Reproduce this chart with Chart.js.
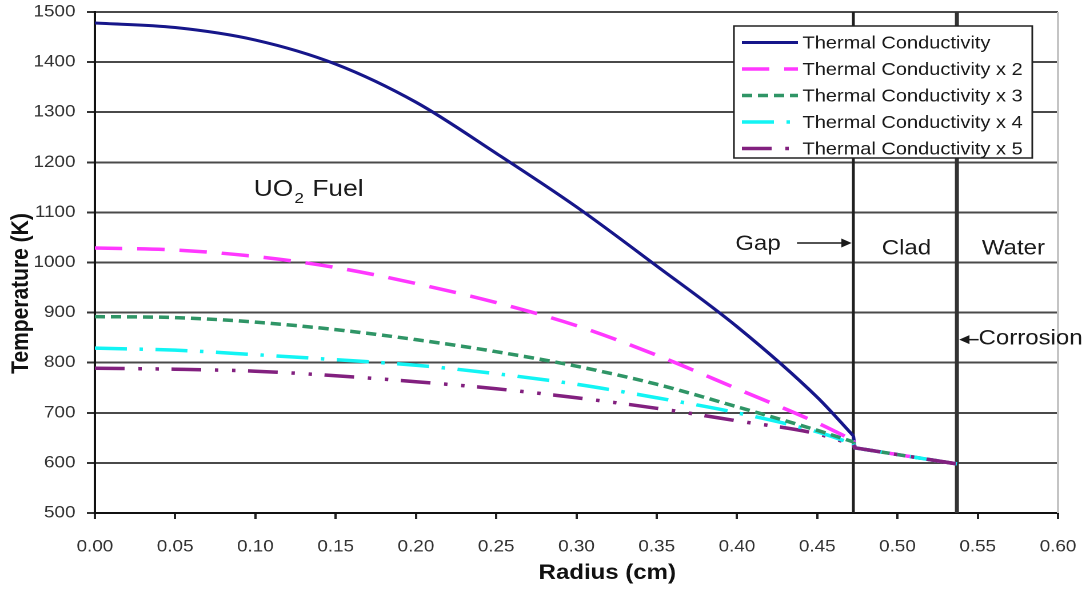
<!DOCTYPE html>
<html>
<head>
<meta charset="utf-8">
<title>Temperature profile</title>
<script src="https://cdn.jsdelivr.net/npm/chart.js@4.4.1/dist/chart.umd.min.js"></script>
<style>
  html, body { margin: 0; padding: 0; background: #fff; overflow: hidden; }
  /* the original picture is stretched sideways, so draw narrow and widen */
  #wrap { width: 950px; height: 589px; transform: scaleX(1.14316); transform-origin: 0 0; }
</style>
</head>
<body>
<div id="wrap"><canvas id="chart1" width="950" height="589"></canvas></div>
<script>
// Data
// fuel region (radius in cm)
const fuelRadius = [0, 0.05, 0.10, 0.15, 0.20, 0.25, 0.30, 0.35, 0.40, 0.45, 0.4725];
const tempK1 = [1478, 1469, 1444, 1396, 1320, 1218, 1111, 993, 872, 731, 654];
const tempK2 = [1029, 1025, 1012, 990, 958, 920, 874, 815, 748, 680, 645];
const tempK3 = [892, 890, 881, 866, 846, 822, 793, 757, 712, 665, 642];
const tempK4 = [829, 825, 816, 806, 795, 778, 757, 730, 700, 662, 638];
const tempK5 = [789, 787, 783, 774, 762, 748, 730, 709, 684, 658, 636];
// gap inner face and clad (same for every case)
const cladRadius = [0.4735, 0.537];
const cladTempK = [630, 598];

const seriesNames = [
    'Thermal Conductivity',
    'Thermal Conductivity x 2',
    'Thermal Conductivity x 3',
    'Thermal Conductivity x 4',
    'Thermal Conductivity x 5'
];
const seriesValues = [tempK1, tempK2, tempK3, tempK4, tempK5];

// axis ranges
const xMin = 0, xMax = 0.6, xStep = 0.05;
const yMin = 500, yMax = 1500, yStep = 100;

// region boundaries (cm)
const gapRadius = 0.4725;
const cladOuterRadius = 0.537;

const FONT = "'Liberation Sans', Arial, Helvetica, sans-serif";

const lineStyles = [
    {color: '#16168a', width: 3, dash: []},
    {color: '#ff38ff', width: 3.5, dash: [24, 13]},
    {color: '#2f9566', width: 3.5, dash: [9, 5]},
    {color: '#12f4f4', width: 3.5, dash: [28, 11, 3, 11]},
    {color: '#82207f', width: 3.5, dash: [26, 12, 3, 12, 3, 11]}
];

function lineSet(label, points, i, smooth, order){
    return {
        label: label,
        data: points,
        borderColor: lineStyles[i].color,
        borderWidth: lineStyles[i].width,
        borderDash: lineStyles[i].dash,
        borderCapStyle: 'butt',
        pointRadius: 0,
        fill: false,
        tension: 0,
        cubicInterpolationMode: smooth ? 'monotone' : 'default',
        order: order
    };
}

var datasets = [];
seriesValues.forEach(function(vals, i){
    // fuel part, smooth curve
    let fuel = fuelRadius.map(function(r, j){ return {x: r, y: vals[j]}; });
    datasets.push(lineSet(seriesNames[i], fuel, i, true, i));
    // drop across the gap, then straight through the clad
    let clad = [{x: gapRadius, y: vals[vals.length - 1]}].concat(
        cladRadius.map(function(r, j){ return {x: r, y: cladTempK[j]}; }));
    datasets.push(lineSet(seriesNames[i] + ' (clad)', clad, i, false, 10 - i));
});

function arrowHead(ctx, x, y, dir){
    ctx.beginPath();
    ctx.moveTo(x, y);
    ctx.lineTo(x - dir * 9, y - 4.5);
    ctx.lineTo(x - dir * 9, y + 4.5);
    ctx.closePath();
    ctx.fill();
}

// Region lines, labels, legend box, axis titles
const extras = {
    id: 'extras',
    beforeDatasetsDraw(chart){
        const {ctx, chartArea: a, scales: {x}} = chart;
        ctx.save();
        ctx.strokeStyle = '#c4c4c4';
        ctx.lineWidth = 2;
        ctx.beginPath(); ctx.moveTo(a.right, a.top); ctx.lineTo(a.right, a.bottom); ctx.stroke();

        ctx.strokeStyle = '#1e1e1e';
        ctx.lineWidth = 2.5;
        let gx = x.getPixelForValue(gapRadius);
        ctx.beginPath(); ctx.moveTo(gx, a.top); ctx.lineTo(gx, a.bottom); ctx.stroke();

        ctx.strokeStyle = '#333';
        ctx.lineWidth = 3.5;
        let cx = x.getPixelForValue(cladOuterRadius);
        ctx.beginPath(); ctx.moveTo(cx, a.top); ctx.lineTo(cx, a.bottom); ctx.stroke();
        ctx.restore();
    },
    afterDraw(chart){
        const {ctx, chartArea: a, scales: {x, y}} = chart;
        ctx.save();
        ctx.fillStyle = '#1a1a1a';
        ctx.strokeStyle = '#1a1a1a';

        // UO2 Fuel
        ctx.textBaseline = 'middle';
        ctx.textAlign = 'left';
        let ux = x.getPixelForValue(0.099), uy = y.getPixelForValue(1145);
        ctx.font = '23px ' + FONT;
        ctx.fillText('UO', ux, uy);
        let w = ctx.measureText('UO').width;
        ctx.font = '15px ' + FONT;
        ctx.fillText('2', ux + w + 1, uy + 9);
        let w2 = ctx.measureText('2').width;
        ctx.font = '23px ' + FONT;
        ctx.fillText(' Fuel', ux + w + w2 + 2, uy);

        // region labels
        ctx.font = '21px ' + FONT;
        ctx.textAlign = 'center';
        ctx.fillText('Clad', x.getPixelForValue(0.5056), y.getPixelForValue(1028));
        ctx.fillText('Water', x.getPixelForValue(0.5722), y.getPixelForValue(1028));
        ctx.fillText('Gap', x.getPixelForValue(0.4131), y.getPixelForValue(1037));
        ctx.textAlign = 'left';
        ctx.fillText('Corrosion', x.getPixelForValue(0.5505), y.getPixelForValue(848));

        // arrows
        ctx.lineWidth = 1.5;
        let ay = y.getPixelForValue(1039);
        let ax0 = x.getPixelForValue(0.4374), ax1 = x.getPixelForValue(gapRadius) - 1.5;
        ctx.beginPath(); ctx.moveTo(ax0, ay); ctx.lineTo(ax1 - 6, ay); ctx.stroke();
        arrowHead(ctx, ax1, ay, 1);
        let by = y.getPixelForValue(846);
        let bx0 = x.getPixelForValue(0.5505), bx1 = x.getPixelForValue(cladOuterRadius) + 2;
        ctx.beginPath(); ctx.moveTo(bx0, by); ctx.lineTo(bx1 + 6, by); ctx.stroke();
        arrowHead(ctx, bx1, by, -1);

        // legend box
        let lx = a.right - 283.5, ly = a.top + 14, lw = 261, lh = 132;
        ctx.fillStyle = '#fff';
        ctx.fillRect(lx, ly, lw, lh);
        ctx.strokeStyle = '#222';
        ctx.lineWidth = 1.5;
        ctx.strokeRect(lx, ly, lw, lh);
        ctx.font = '17.5px ' + FONT;
        ctx.textAlign = 'left';
        ctx.textBaseline = 'middle';
        seriesNames.forEach(function(name, i){
            let ry = ly + 16.5 + i * 26.5;
            let st = lineStyles[i];
            ctx.strokeStyle = st.color;
            ctx.lineWidth = st.width;
            ctx.setLineDash(st.dash);
            ctx.beginPath(); ctx.moveTo(lx + 7, ry); ctx.lineTo(lx + 56, ry); ctx.stroke();
            ctx.setLineDash([]);
            ctx.fillStyle = '#1a1a1a';
            ctx.fillText(name, lx + 60, ry + 1);
        });

        // axis titles
        ctx.fillStyle = '#111';
        ctx.font = 'bold 21px ' + FONT;
        ctx.textAlign = 'center';
        ctx.fillText('Radius (cm)', (a.left + a.right) / 2 + 27, 573);
        ctx.translate(18.5, (a.top + a.bottom) / 2 + 31);
        ctx.rotate(-Math.PI / 2);
        ctx.fillText('Temperature (K)', 0, 0);
        ctx.restore();
    }
};

var ctx1 = document.getElementById('chart1');
var chart1 = new Chart(ctx1, {
    type: 'line',
    data: {datasets: datasets},
    options: {
        responsive: false,
        animation: false,
        devicePixelRatio: 2,
        layout: {padding: 0},
        plugins: {
            legend: {display: false},
            tooltip: {enabled: false}
        },
        scales: {
            x: {
                type: 'linear',
                min: xMin, max: xMax,
                afterFit: function(scale){
                    scale.height = 76;
                    scale.paddingLeft = 0;
                    scale.paddingRight = 24.5;
                },
                ticks: {
                    stepSize: xStep,
                    padding: 18,
                    color: '#333',
                    font: {family: FONT, size: 16.5},
                    maxRotation: 0,
                    callback: function(v){ return Number(v).toFixed(2); }
                },
                grid: {drawOnChartArea: false, tickLength: 6, color: '#222', lineWidth: 2},
                border: {color: '#111', width: 2}
            },
            y: {
                min: yMin, max: yMax,
                afterFit: function(scale){
                    scale.width = 83;
                    scale.paddingTop = 12;
                    scale.paddingBottom = 0;
                },
                ticks: {
                    stepSize: yStep,
                    padding: 10,
                    color: '#333',
                    font: {family: FONT, size: 16.5},
                    callback: function(v){ return String(v); }
                },
                grid: {color: '#4a4a4a', lineWidth: 2, tickLength: 7, tickColor: '#333'},
                border: {color: '#111', width: 2}
            }
        }
    },
    plugins: [extras]
});
</script>
</body>
</html>
